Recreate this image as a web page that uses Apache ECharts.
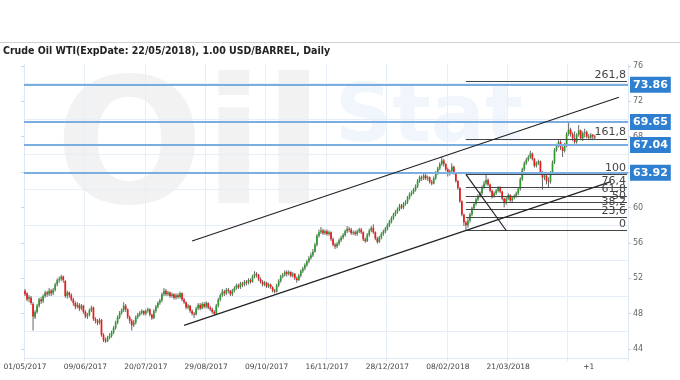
<!DOCTYPE html>
<html><head><meta charset="utf-8">
<script src="https://cdn.jsdelivr.net/npm/echarts@6/dist/echarts.min.js"></script>
<style>html,body{margin:0;padding:0;background:#fff}#c{width:680px;height:380px}</style>
</head><body><div id="c"></div>
<script>
const titleText = 'Crude Oil WTI(ExpDate: 22/05/2018), 1.00 USD/BARREL, Daily';
const dateLabels = ['01/05/2017','09/06/2017','20/07/2017','29/08/2017','09/10/2017','16/11/2017','28/12/2017','08/02/2018','21/03/2018'];
const futureLabel = '+1';
const yTickValues = [44,48,52,56,60,64,68,72,76];
const yGridValues = [46,50,54,58,62,66,70,74];
// [open, close, low, high]
const candles = [
[50.6,50.2,50.0,50.8],[50.3,49.6,49.4,50.4],[49.7,49.9,49.3,50.1],[49.8,49.2,49.0,50.0],[49.1,47.7,46.1,49.3],
[47.6,48.2,47.4,48.4],[48.2,48.9,48.0,49.1],[48.9,49.6,48.7,49.8],[49.6,49.4,49.1,49.9],[49.4,50.0,49.2,50.2],
[50.0,50.4,49.8,50.6],[50.4,50.2,49.9,50.6],[50.2,50.6,50.0,50.9],[50.6,50.3,50.0,50.8],[50.3,50.7,50.1,50.9],
[50.7,51.3,50.5,51.5],[51.3,51.8,51.1,52.0],[51.8,51.9,51.5,52.2],[51.9,52.2,51.7,52.4],[52.2,51.8,51.5,52.3],
[51.7,50.0,49.8,51.8],[50.0,50.4,49.7,50.6],[50.4,50.1,49.8,50.5],[50.1,49.6,49.4,50.3],[49.6,49.2,48.9,49.8],
[49.2,48.8,48.5,49.4],[48.8,49.0,48.6,49.3],[49.0,48.6,48.3,49.2],[48.6,48.9,48.4,49.1],[48.9,48.2,48.0,49.0],
[48.2,47.7,47.5,48.4],[47.7,47.9,47.4,48.1],[47.9,48.4,47.7,48.6],[48.4,48.7,48.2,48.9],[48.7,47.4,47.2,48.8],
[47.4,47.2,46.9,47.6],[47.2,47.0,46.7,47.4],[47.0,47.3,46.8,47.5],[47.3,45.6,45.4,47.4],[45.6,45.0,44.8,45.8],
[45.0,44.9,44.7,45.3],[44.9,45.3,44.8,45.5],[45.3,45.5,45.1,45.8],[45.5,45.9,45.3,46.1],[45.9,46.4,45.7,46.6],
[46.4,47.0,46.2,47.2],[47.0,47.6,46.8,47.8],[47.6,48.1,47.4,48.3],[48.1,48.4,47.9,48.6],[48.4,48.9,48.2,49.3],
[48.9,48.5,48.2,49.1],[48.5,47.6,47.4,48.6],[47.6,47.2,46.9,47.8],[47.2,46.7,46.1,47.4],[46.7,47.0,46.5,47.3],
[47.0,47.6,46.8,47.8],[47.6,47.9,47.4,48.1],[47.9,48.1,47.7,48.3],[48.1,48.3,47.9,48.5],[48.3,48.0,47.8,48.4],
[48.0,48.3,47.8,48.5],[48.3,48.5,48.1,48.7],[48.5,47.9,47.7,48.6],[47.9,47.5,47.3,48.0],[47.5,48.3,47.4,48.5],
[48.3,48.8,48.1,49.0],[48.8,49.2,48.6,49.4],[49.2,49.5,49.0,49.7],[49.5,50.2,49.3,50.4],[50.2,50.6,50.0,50.9],
[50.6,50.2,50.0,50.8],[50.2,50.4,50.0,50.6],[50.4,50.0,49.8,50.5],[50.0,50.2,49.8,50.4],[50.2,49.8,49.6,50.3],
[49.8,50.1,49.6,50.3],[50.1,49.9,49.7,50.3],[49.9,50.3,49.7,50.5],[50.3,49.6,49.4,50.4],[49.6,49.3,49.1,49.8],
[49.3,48.7,48.5,49.4],[48.7,48.9,48.5,49.1],[48.9,48.3,48.1,49.0],[48.3,48.0,47.8,48.5],[48.0,47.9,47.5,48.2],
[47.9,48.6,47.8,48.8],[48.6,49.0,48.4,49.2],[49.0,48.6,48.4,49.2],[48.6,49.1,48.5,49.3],[49.1,48.8,48.6,49.3],
[48.8,49.2,48.6,49.4],[49.2,48.7,48.5,49.3],[48.7,48.5,48.3,48.9],[48.5,48.2,48.0,48.7],[48.2,48.0,47.8,48.4],
[48.0,48.9,47.9,49.1],[48.9,49.6,48.7,49.8],[49.6,50.1,49.4,50.3],[50.1,50.5,49.9,50.8],[50.5,50.3,50.0,50.7],
[50.3,50.7,50.1,50.9],[50.7,50.6,50.3,50.9],[50.6,50.2,50.0,50.7],[50.2,50.6,50.0,50.8],[50.6,50.9,50.4,51.1],
[50.9,51.2,50.7,51.4],[51.2,51.0,50.8,51.4],[51.0,51.4,50.8,51.6],[51.4,51.3,51.0,51.6],[51.3,51.6,51.1,51.8],
[51.6,51.5,51.2,51.8],[51.5,51.8,51.3,52.0],[51.8,51.6,51.4,52.0],[51.6,52.2,51.5,52.4],[52.2,52.5,52.0,52.8],
[52.5,52.4,52.1,52.7],[52.4,51.9,51.7,52.5],[51.9,51.6,51.4,52.1],[51.6,51.3,51.1,51.8],[51.3,51.5,51.1,51.7],
[51.5,51.1,50.9,51.6],[51.1,51.3,50.9,51.5],[51.3,51.0,50.8,51.4],[51.0,50.6,50.4,51.1],[50.6,50.5,50.3,50.8],
[50.5,51.2,50.4,51.4],[51.2,51.7,51.0,51.9],[51.7,52.2,51.5,52.4],[52.2,52.4,52.0,52.6],[52.4,52.7,52.2,52.9],
[52.7,52.5,52.2,52.9],[52.5,52.7,52.3,52.9],[52.7,52.3,52.1,52.8],[52.3,52.5,52.1,52.7],[52.5,52.0,51.8,52.6],
[52.0,51.8,51.5,52.2],[51.8,52.3,51.7,52.5],[52.3,52.8,52.1,53.0],[52.8,53.1,52.6,53.3],[53.1,53.5,52.9,53.7],
[53.5,53.9,53.3,54.1],[53.9,54.3,53.7,54.5],[54.3,54.6,54.1,54.9],[54.6,55.0,54.4,55.3],[55.0,55.8,54.9,56.0],
[55.8,56.8,55.6,57.0],[56.8,57.2,56.6,57.5],[57.2,57.4,57.0,57.8],[57.4,57.1,56.9,57.6],[57.1,57.3,56.9,57.5],
[57.3,57.0,56.8,57.5],[57.0,57.2,56.8,57.4],[57.2,56.4,56.2,57.3],[56.4,55.8,55.6,56.6],[55.8,55.6,55.3,56.0],
[55.6,55.9,55.4,56.1],[55.9,56.3,55.7,56.5],[56.3,56.6,56.1,56.8],[56.6,56.9,56.4,57.1],[56.9,57.3,56.7,57.5],
[57.3,57.6,57.1,57.9],[57.6,57.5,57.2,57.8],[57.5,57.1,56.9,57.7],[57.1,57.2,56.9,57.4],[57.2,57.0,56.8,57.4],
[57.0,57.3,56.8,57.5],[57.3,57.5,57.1,57.7],[57.5,57.2,57.0,57.7],[57.2,56.4,56.2,57.3],[56.4,56.2,56.0,56.6],
[56.2,56.9,56.1,57.1],[56.9,57.4,56.7,57.6],[57.4,57.7,57.2,57.9],[57.7,57.2,57.0,58.1],[57.2,56.5,56.3,57.3],
[56.5,56.1,55.9,56.7],[56.1,56.6,56.0,56.8],[56.6,57.0,56.4,57.2],[57.0,57.3,56.8,57.5],[57.3,57.6,57.1,57.8],
[57.6,58.0,57.4,58.2],[58.0,58.4,57.8,58.6],[58.4,58.8,58.2,59.0],[58.8,59.2,58.6,59.4],[59.2,59.5,59.0,59.7],
[59.5,59.8,59.3,60.0],[59.8,60.2,59.6,60.4],[60.2,60.0,59.8,60.4],[60.0,60.4,59.8,60.6],[60.4,60.6,60.2,60.8],
[60.6,61.1,60.4,61.3],[61.1,61.5,60.9,61.7],[61.5,61.7,61.3,61.9],[61.7,62.0,61.5,62.2],[62.0,62.4,61.8,62.6],
[62.4,63.0,62.2,63.2],[63.0,63.4,62.8,63.6],[63.4,63.3,63.0,63.6],[63.3,63.6,63.1,64.0],[63.6,63.3,63.1,63.8],
[63.3,63.4,63.0,63.6],[63.4,62.9,62.7,63.5],[62.9,62.7,62.5,63.1],[62.7,63.3,62.6,63.5],[63.3,63.9,63.1,64.1],
[63.9,64.4,63.7,64.6],[64.4,64.9,64.2,65.1],[64.9,65.3,64.7,65.7],[65.3,64.9,64.6,65.5],[64.9,64.3,64.1,65.0],
[64.3,63.8,63.5,64.5],[63.8,64.1,63.6,64.3],[64.1,64.6,63.9,65.0],[64.6,63.9,63.7,64.7],[63.9,63.0,62.8,64.0],
[63.0,62.2,62.0,63.1],[62.2,60.7,60.5,62.3],[60.7,59.2,59.0,60.8],[59.2,58.3,57.9,59.3],[58.3,58.0,57.4,58.5],
[58.0,58.5,57.7,58.8],[58.5,59.2,58.3,59.4],[59.2,59.9,59.0,60.1],[59.9,60.4,59.7,60.6],[60.4,60.9,60.2,61.1],
[60.9,61.3,60.7,61.5],[61.3,61.6,61.1,61.8],[61.6,62.3,61.4,62.5],[62.3,62.7,62.1,63.0],[62.7,63.1,62.5,63.9],
[63.1,62.6,62.4,63.3],[62.6,61.9,61.7,62.7],[61.9,61.3,61.0,62.0],[61.3,61.6,61.1,61.8],[61.6,61.9,61.4,62.1],
[61.9,62.2,61.7,62.4],[62.2,61.8,61.6,62.4],[61.8,61.0,60.8,61.9],[61.0,60.5,60.0,61.1],[60.5,61.0,60.3,61.2],
[61.0,61.4,60.8,61.6],[61.4,60.8,60.6,61.5],[60.8,61.1,60.6,61.3],[61.1,61.3,60.9,61.5],[61.3,61.6,61.1,61.8],
[61.6,62.1,61.4,62.3],[62.1,63.2,61.9,63.4],[63.2,64.3,63.0,64.5],[64.3,65.0,64.1,65.2],[65.0,65.4,64.8,65.6],
[65.4,65.7,65.2,65.9],[65.7,66.1,65.5,66.4],[66.1,65.5,65.3,66.2],[65.5,64.7,64.5,65.6],[64.7,65.0,64.5,65.2],
[65.0,65.2,64.8,65.4],[65.2,64.0,63.8,65.3],[64.0,63.4,62.0,64.1],[63.4,63.6,63.1,63.9],[63.6,63.0,62.6,63.7],
[63.0,62.9,62.3,63.4],[62.9,63.9,62.7,64.1],[63.9,65.1,63.7,65.3],[65.1,66.5,64.9,66.7],[66.5,67.0,66.3,67.2],
[67.0,67.4,66.8,67.6],[67.4,66.8,66.5,67.6],[66.8,66.4,65.7,66.9],[66.4,67.0,66.2,67.3],[67.0,68.3,66.8,68.5],
[68.3,68.8,68.1,69.65],[68.8,68.3,68.0,69.0],[68.3,67.8,67.5,68.5],[67.8,67.4,67.2,68.6],[67.4,68.2,67.2,68.4],
[68.2,68.7,68.0,69.3],[68.7,67.8,67.6,68.8],[67.8,68.4,67.5,68.6],[68.4,68.5,67.9,68.9],[68.5,68.0,67.8,68.7],
[68.0,67.9,67.6,68.3],[67.9,68.2,67.7,68.4],[68.2,68.0,67.6,68.3],[68.0,67.9,67.7,68.2]
];
const slotCount = 300;
const labelStep = 30;
const futureLabelIndex = 280;
const levelValues = [73.86, 69.65, 67.04, 63.92];
const fibNames = ['0','23,6','38,2','50','61,8','76,4','100','161,8','261,8'];
const fibValues = [57.40, 58.90, 59.82, 60.57, 61.32, 62.24, 63.74, 67.72, 74.22];
const fibStartIndex = 219;
const upperChannel = [[83, 56.21], [295, 72.44]];
const lowerChannel = [[79, 46.69], [291, 62.91]];
const fibDiagonal = [[219, 63.74], [239, 57.40]];

const categories = Array.from({length: slotCount}, (_, i) => String(i));
function labelAt(idx) {
  if (idx % labelStep === 0 && idx / labelStep < dateLabels.length) return dateLabels[idx / labelStep];
  if (idx === futureLabelIndex) return futureLabel;
  return '';
}

const chart = echarts.init(document.getElementById('c'), null, {renderer: 'canvas'});
const gridLineColor = '#e6eef8';

const markLineData = [];
levelValues.forEach(v => markLineData.push({
  yAxis: v,
  lineStyle: {color: '#7aaee0', width: 2, type: 'solid'},
  label: {show: true, position: 'end', distance: 2, formatter: v.toFixed(2), color: '#fff',
    backgroundColor: '#2f7fd1', padding: [3, 3, 2, 3], fontSize: 11, fontWeight: 'bold', fontFamily: 'DejaVu Sans'}
}));
fibValues.forEach((v, k) => markLineData.push([
  {coord: [fibStartIndex, v], lineStyle: {color: '#444', width: 1, type: 'solid'},
   label: {show: true, position: 'insideEndTop', distance: 1, formatter: fibNames[k], color: '#444', fontSize: 11, fontFamily: 'DejaVu Sans'}},
  {coord: [slotCount - 1, v]}
]));
[upperChannel, lowerChannel, fibDiagonal].forEach(seg => markLineData.push([
  {coord: seg[0], lineStyle: {color: '#222', width: 1.2, type: 'solid'}, label: {show: false}},
  {coord: seg[1]}
]));

chart.setOption({
  animation: false,
  backgroundColor: '#fff',
  textStyle: {fontFamily: 'DejaVu Sans'},
  graphic: [
    {type: 'line', shape: {x1: 0, y1: 42.5, x2: 680, y2: 42.5}, style: {stroke: '#d0d0d0', lineWidth: 1}, z: 0},
    {type: 'text', left: 3, top: 46, style: {text: titleText, font: 'bold 10.5px "DejaVu Sans Condensed"', fill: '#222'}},
    {type: 'text', x: 55, y: 70, z: -1, style: {text: 'Oil', font: 'bold 175px "DejaVu Sans"', fill: 'rgba(0,0,0,0.05)'}},
    {type: 'text', x: 335, y: 80, z: -1, style: {text: 'Stat', font: 'bold 80px "DejaVu Sans"', fill: 'rgba(70,140,210,0.08)'}}
  ],
  grid: {left: 24, right: 52, top: 64, bottom: 22, containLabel: false},
  xAxis: {
    type: 'category', data: categories, boundaryGap: true,
    axisLine: {show: true, lineStyle: {color: '#dfe9f5'}},
    axisTick: {show: true, interval: labelStep - 1, length: 3, lineStyle: {color: '#dfe9f5'}},
    axisLabel: {interval: (idx) => labelAt(idx) !== '', formatter: (v, idx) => labelAt(Number(v)),
      color: '#444', fontSize: 7.5, margin: 5, fontFamily: 'DejaVu Sans'},
    splitLine: {show: true, interval: labelStep - 1, lineStyle: {color: gridLineColor, width: 1}}
  },
  yAxis: [
    {type: 'value', position: 'right', min: 43, max: 76.2, scale: true,
     axisLine: {show: true, lineStyle: {color: '#dfe9f5'}},
     axisTick: {show: true, customValues: yTickValues, length: 3, lineStyle: {color: '#c8d6e6'}},
     axisLabel: {customValues: yTickValues, color: '#666', fontSize: 8, margin: 5, fontFamily: 'DejaVu Sans'},
     splitLine: {show: false}},
    {type: 'value', position: 'left', min: 43, max: 76.2, scale: true,
     axisLine: {show: true, lineStyle: {color: '#dfe9f5'}},
     axisTick: {show: true, customValues: yTickValues, length: 3, lineStyle: {color: '#c8d6e6'}},
     axisLabel: {show: false},
     splitLine: {show: false}},
    {type: 'value', position: 'left', min: 43, max: 76.2, scale: true,
     axisLine: {show: false}, axisTick: {show: false, customValues: yGridValues}, axisLabel: {show: false},
     splitLine: {show: true, lineStyle: {color: gridLineColor, width: 1}}}
  ],
  series: [
    {
      type: 'custom', name: 'WTI', xAxisIndex: 0, yAxisIndex: 0,
      data: candles.map((d, i) => [i, d[0], d[1], d[2], d[3]]),
      encode: {x: 0, y: [1, 2, 3, 4]},
      renderItem: function (params, api) {
        const x = api.value(0);
        const o = api.coord([x, api.value(1)]);
        const c = api.coord([x, api.value(2)]);
        const l = api.coord([x, api.value(3)]);
        const h = api.coord([x, api.value(4)]);
        const bw = Math.max(1.5, api.size([1, 0])[0] * 0.85);
        const up = api.value(2) >= api.value(1);
        const top = Math.min(o[1], c[1]);
        const ht = Math.max(1, Math.abs(o[1] - c[1]));
        return {type: 'group', children: [
          {type: 'line', shape: {x1: h[0], y1: h[1], x2: l[0], y2: l[1]}, style: {stroke: '#666', lineWidth: 1}},
          {type: 'rect', shape: {x: c[0] - bw / 2, y: top, width: bw, height: ht}, style: {fill: up ? '#2f9a2f' : '#f01818'}}
        ]};
      },
      z: 3
    },
    {
      type: 'line', name: 'annotations', xAxisIndex: 0, yAxisIndex: 0, data: [], silent: true,
      markLine: {symbol: ['none', 'none'], silent: true, animation: false, data: markLineData},
      z: 4
    }
  ]
});
</script>
</body></html>
